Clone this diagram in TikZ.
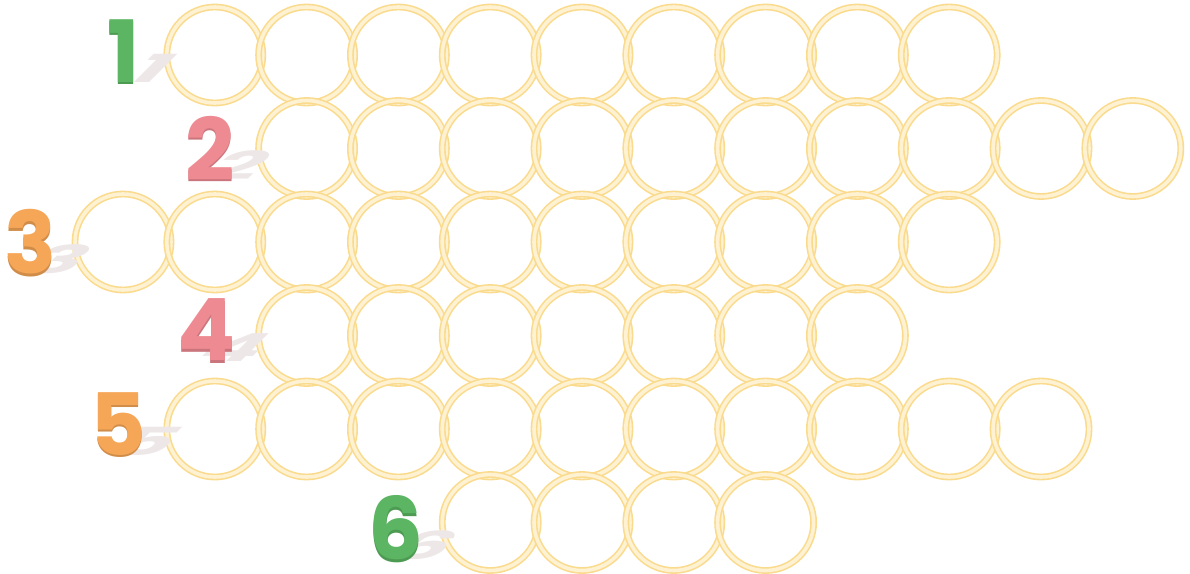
\documentclass[tikz,border=0pt]{standalone}
\usepackage{fontspec}
\newfontfamily\digitfont{Poppins}
\definecolor{ringout}{HTML}{FADB8E}
\definecolor{ringin}{HTML}{FEF2D2}
\definecolor{numgreen}{HTML}{5BB562}
\definecolor{numpink}{HTML}{EE8A92}
\definecolor{numorange}{HTML}{F5A657}
\definecolor{numshade}{HTML}{EEE7E8}
\tikzset{
  ring/.style={circle, minimum size=96, inner sep=0, draw=ringout, line width=1.6, double=ringin, double distance=3.6},
  numeral/.style={font=\digitfont\bfseries\fontsize{86}{86}\selectfont, inner sep=0},
  numshadow/.style={numeral, text=numshade, anchor=base, transform shape, yscale=0.45, xslant=0.45}
}
% digit with its shadow: x, y, name, colour, digit
\newcommand{\bignum}[5]{%
  \node[numshadow] at (#1+16,#2+31) {#5};
  \node[numeral, text=#4!85!black] at (#1,#2+2.5) {#5};
  \node[numeral, text=#4] (#3) at (#1,#2) {#5};}

\begin{document}
\begin{tikzpicture}[x=1pt,y=-1pt]
\useasboundingbox (0,0) rectangle (1190,573);
% circles, row by row
\foreach \k in {1,...,9} \node[ring] (r1c\k) at ({123+91.8*\k},55) {};
\foreach \k in {2,...,11} \node[ring] (r2c\k) at ({123+91.8*\k},148.5) {};
\foreach \k in {0,...,9} \node[ring] (r3c\k) at ({123+91.8*\k},242) {};
\foreach \k in {2,...,8} \node[ring] (r4c\k) at ({123+91.8*\k},335.5) {};
\foreach \k in {1,...,10} \node[ring] (r5c\k) at ({123+91.8*\k},429) {};
\foreach \k in {4,...,7} \node[ring] (r6c\k) at ({123+91.8*\k},522.5) {};
% row numbers
\bignum{124}{51}{n1}{numgreen}{1}
\bignum{210}{148}{n2}{numpink}{2}
\bignum{31}{242}{n3}{numorange}{3}
\bignum{207}{330}{n4}{numpink}{4}
\bignum{118}{424}{n5}{numorange}{5}
\bignum{396}{528}{n6}{numgreen}{6}
\end{tikzpicture}
\end{document}
